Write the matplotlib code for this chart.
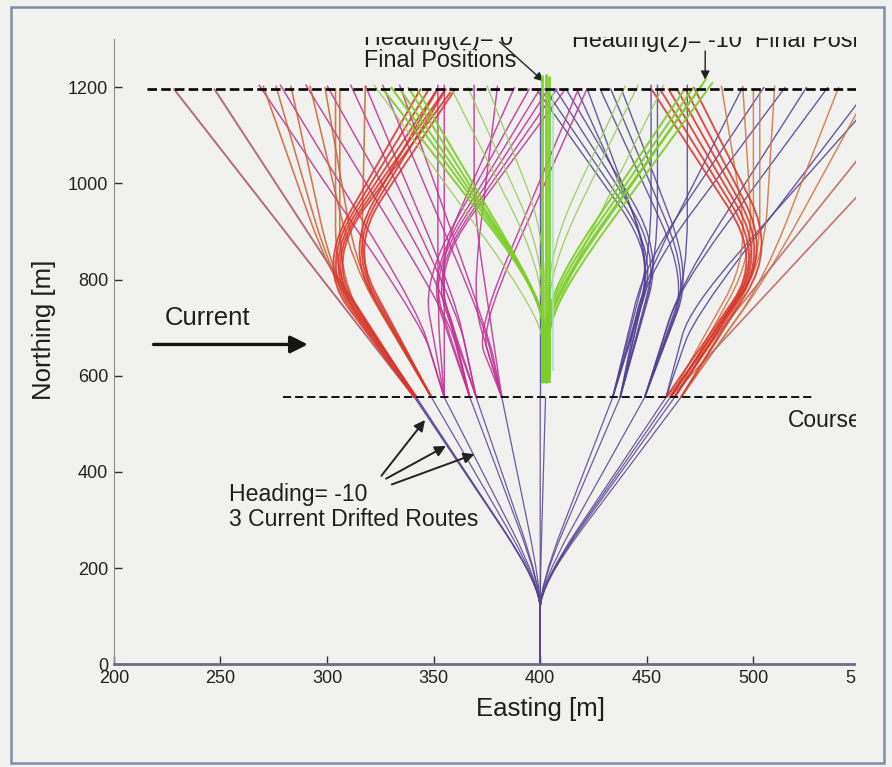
import matplotlib.pyplot as plt
from matplotlib.path import Path
from matplotlib.patches import PathPatch, Rectangle
import numpy as np

plt.rcParams['font.family'] = ['Liberation Sans', 'DejaVu Sans']

# ---- values (Easting / Northing in m) ----
x_ticks = [200, 250, 300, 350, 400, 450, 500, 550]
y_ticks = [0, 200, 400, 600, 800, 1000, 1200]

final_line_x = [215.5, 550]      # dashed "final positions" line
final_line_y = 1197
course_line_x = [279.5, 528]     # dashed "course" line
course_line_y = 555

# first leg: origin -> knee -> crossing of the course line
fan_start = (400, 0)
fan_knee = (400, 165)
fan_x = [341, 341.5, 342, 349, 355, 367, 370, 382, 400, 402.5,
         434, 437.5, 449, 459, 461, 463, 466]

# second legs, each route given by its way points
long_left = [
    [(341, 555), (228, 1197)],
    [(341.5, 555), (247, 1197)],
]
red_left = [
    [(341, 555), (296, 826), (344, 1197)],
    [(341, 555), (297, 830), (348, 1197)],
    [(342, 555), (298, 834), (352, 1197)],
    [(342, 555), (299, 838), (355, 1192)],
    [(341.5, 555), (300, 842), (358, 1190)],
    [(349, 555), (309, 862), (352, 1197)],
    [(349, 555), (310, 866), (356, 1197)],
    [(349, 555), (311, 870), (360, 1195)],
]
orange_left = [
    [(341, 555), (304, 790), (304, 1197)],
    [(342, 555), (306, 792), (306, 1197)],
    [(341, 555), (301, 812), (270, 1203)],
    [(341.5, 555), (302, 806), (276, 1203)],
    [(342, 555), (303, 800), (283, 1203)],
    [(349, 555), (312, 830), (292, 1203)],
    [(349, 555), (314, 820), (299, 1200)],
    [(349, 555), (316, 800), (318, 1203)],
]
magenta = [
    [(355, 555), (345, 700), (268, 1205)],
    [(355, 555), (343, 730), (278, 1205)],
    [(367, 555), (357, 720), (290, 1205)],
    [(367, 555), (356, 760), (300, 1203)],
    [(370, 555), (362, 720), (311, 1205)],
    [(370, 555), (360, 760), (318, 1203)],
    [(382, 555), (374, 700), (326, 1205)],
    [(382, 555), (376, 680), (334, 1205)],
    [(355, 555), (345, 800), (395, 1197)],
    [(367, 555), (347, 812), (400, 1197)],
    [(367, 555), (348, 816), (404, 1197)],
    [(370, 555), (349, 820), (408, 1197)],
    [(370, 555), (350, 826), (412, 1197)],
    [(367, 555), (351, 830), (388, 1200)],
    [(382, 555), (370, 690), (418, 1197)],
    [(382, 555), (372, 700), (422, 1197)],
    [(382, 555), (368, 760), (380, 1203)],
    [(355, 555), (352, 720), (352, 1205)],
    [(355, 555), (355, 760), (355, 1205)],
    [(382, 555), (369, 940), (369, 1205)],
]
green_trunk = [
    [(401, 585), (401, 1225)],
    [(402.5, 585), (402.5, 1228)],
    [(404, 600), (404, 1222)],
]
green_cyan = [
    [(406, 610), (406, 1197)],
]
green_v = [
    [(401, 585), (401, 770), (326, 1197)],
    [(401.5, 585), (401.5, 765), (330, 1200)],
    [(402, 585), (402, 760), (334, 1197)],
    [(402, 585), (402, 750), (338, 1200)],
    [(402.5, 585), (402.5, 745), (342, 1197)],
    [(403, 585), (403, 770), (468, 1197)],
    [(403.5, 585), (403.5, 765), (472, 1200)],
    [(404, 585), (404, 760), (476, 1205)],
    [(404, 585), (404, 752), (478, 1218)],
    [(404.5, 585), (404.5, 745), (481, 1210)],
]
green_light = [
    [(401, 585), (401, 820), (358, 1200)],
    [(401, 585), (401, 860), (366, 1200)],
    [(402, 585), (402, 900), (375, 1203)],
    [(401, 585), (401, 720), (322, 1205)],
    [(404, 585), (404, 820), (446, 1205)],
    [(404, 585), (404, 860), (440, 1203)],
    [(404, 585), (404, 720), (458, 1205)],
]
purple = [
    [(400, 555), (400, 1197)],
    [(434, 555), (454, 848), (398, 1197)],
    [(434, 555), (455, 852), (402, 1197)],
    [(437.5, 555), (456, 856), (407, 1197)],
    [(437.5, 555), (457, 860), (412, 1197)],
    [(434, 555), (453, 845), (417, 1197)],
    [(437.5, 555), (452, 835), (422, 1197)],
    [(434, 555), (452, 860), (452, 1205)],
    [(437.5, 555), (455, 850), (455, 1205)],
    [(449, 555), (469, 810), (469, 1205)],
    [(449, 555), (469, 800), (428, 1197)],
    [(449, 555), (470, 805), (433, 1197)],
    [(449, 555), (471, 810), (438, 1197)],
    [(434, 555), (449, 830), (505, 1200)],
    [(437.5, 555), (451, 820), (515, 1200)],
    [(437.5, 555), (448, 790), (495, 1200)],
    [(449, 555), (466, 790), (525, 1200)],
    [(449, 555), (465, 780), (535, 1200)],
    [(459, 555), (472, 720), (552, 1185)],
    [(459, 555), (470, 740), (552, 1150)],
]
red_right = [
    [(459, 555), (504, 842), (452, 1197)],
    [(461, 555), (505, 846), (456, 1197)],
    [(461, 555), (506, 850), (460, 1197)],
    [(463, 555), (507, 855), (464, 1197)],
    [(463, 555), (508, 860), (468, 1197)],
    [(466, 555), (510, 865), (472, 1200)],
]
orange_right = [
    [(461, 555), (500, 810), (500, 1197)],
    [(463, 555), (503, 815), (503, 1197)],
    [(461, 555), (498, 850), (485, 1203)],
    [(463, 555), (500, 850), (495, 1203)],
    [(466, 555), (505, 840), (510, 1203)],
    [(466, 555), (505, 800), (540, 1200)],
    [(466, 555), (507, 810), (552, 1175)],
]
tan_right = [
    [(459.4, 555), (555, 1083)],
    [(461, 555), (555, 1003)],
]

# annotation arrows: (tail, head)
current_arrow = [(218.6, 665), (291, 665)]
heading_arrows = [
    [(325.5, 392), (346, 508)],
    [(327.7, 386), (355.8, 454)],
    [(330.4, 374), (369.2, 437)],
]
final0_arrow = [(381, 1294), (401.5, 1212)]
final10_arrow = [(477.4, 1275), (477.4, 1215)]


def route_path(pts, f):
    pts = np.asarray(pts, float)
    verts = [pts[0]]
    codes = [Path.MOVETO]
    for i in range(1, len(pts) - 1):
        p, v, n = pts[i - 1], pts[i], pts[i + 1]
        verts += [v + f * (p - v), v, v + f * (n - v)]
        codes += [Path.LINETO, Path.CURVE3, Path.CURVE3]
    verts.append(pts[-1])
    codes.append(Path.LINETO)
    return Path(verts, codes)


def draw(ax, routes, color, lw=1.0, f=0.3, alpha=0.9, z=2, speck=True):
    # printed look of the scan: coloured line with dark specks on it
    for r in routes:
        path = route_path(r, f)
        ax.add_patch(PathPatch(path, fill=False, edgecolor=color, lw=lw,
                               alpha=alpha, zorder=z, capstyle='butt'))
        if speck:
            ax.add_patch(PathPatch(path, fill=False, edgecolor='#3a2a3a',
                                   lw=0.5, alpha=0.35, zorder=z,
                                   linestyle=(0, (1, 2.5))))


bg = '#f1f1f0'
fig = plt.figure(figsize=(8.92, 7.67), dpi=100, facecolor=bg)
ax = fig.add_axes([0.1276, 0.1338, 0.8365, 0.8154])
ax.set_facecolor('none')
ax.set_xlim(200, 550)
ax.set_ylim(0, 1300)

fan = [[fan_start, fan_knee, (x, course_line_y)] for x in fan_x]
draw(ax, fan, '#5a4898', lw=0.9, f=0.3, alpha=0.85, z=2)
draw(ax, long_left, '#b0586a', lw=1.4, alpha=0.85, z=2)
draw(ax, purple, '#54449a', lw=1.0, alpha=0.85, z=2)
draw(ax, magenta, '#c8359c', lw=1.1, alpha=0.85, z=3)
draw(ax, orange_left, '#d46a3c', lw=1.2, alpha=0.85, z=3)
draw(ax, orange_right, '#dc7a48', lw=1.1, alpha=0.85, z=3)
draw(ax, tan_right, '#c07068', lw=1.3, alpha=0.85, z=3)
draw(ax, red_left, '#e2362c', lw=1.4, alpha=0.85, z=4)
draw(ax, red_right, '#e2362c', lw=1.4, alpha=0.85, z=4)
draw(ax, green_light, '#a6d86a', lw=1.0, f=0.35, alpha=0.9, z=5)
draw(ax, green_v, '#7ccf28', lw=1.5, f=0.35, alpha=0.9, z=5, speck=False)
draw(ax, green_trunk, '#7ccf28', lw=2.0, alpha=0.95, z=5, speck=False)
draw(ax, green_cyan, '#a8dcd2', lw=1.2, alpha=0.95, z=5, speck=False)

ax.plot(final_line_x, [final_line_y] * 2, color='k', lw=1.9,
        dashes=(3.6, 1.6), zorder=6)
ax.plot(course_line_x, [course_line_y] * 2, color='k', lw=1.3,
        dashes=(4.5, 2.2), zorder=6)

ax.annotate('', xy=current_arrow[1], xytext=current_arrow[0],
            arrowprops=dict(arrowstyle='-|>', lw=2.4, color='#151515',
                            mutation_scale=26, shrinkA=0, shrinkB=0))
for tail, head in heading_arrows:
    ax.annotate('', xy=head, xytext=tail,
                arrowprops=dict(arrowstyle='-|>', lw=1.4, color='#222',
                                mutation_scale=16, shrinkA=0, shrinkB=0))
for tail, head in (final0_arrow, final10_arrow):
    ax.annotate('', xy=head, xytext=tail, annotation_clip=False,
                arrowprops=dict(arrowstyle='-|>', lw=1.0, color='#222',
                                mutation_scale=13, shrinkA=0, shrinkB=0))

txt = '#1e1e1e'
ax.text(224, 719, 'Current', fontsize=18.5, color=txt, va='center', ha='left')
ax.text(516, 506, 'Course', fontsize=16.5, color=txt, va='center', ha='left')
ax.text(254, 354, 'Heading= -10', fontsize=16.6, color=txt, va='center')
ax.text(254, 302, '3 Current Drifted Routes', fontsize=16.6, color=txt,
        va='center')
ax.text(317.4, 1300, 'Heading(2)= 0', fontsize=16.8, color=txt,
        va='center', clip_on=False)
ax.text(317.4, 1256, 'Final Positions', fontsize=16.8, color=txt,
        va='center', clip_on=False)
ax.text(415, 1296, 'Heading(2)= -10  Final Positions', fontsize=16.8,
        color=txt, va='center', clip_on=False)

ax.set_xticks(x_ticks)
ax.set_yticks(y_ticks)
ax.tick_params(direction='in', length=6, width=1, colors='#333',
               labelsize=13, pad=4)
ax.tick_params(axis='both', labelcolor='#222')
for s in ('top', 'right'):
    ax.spines[s].set_visible(False)
ax.spines['left'].set_color('#8a8a8a')
ax.spines['bottom'].set_color('#6f6a88')
ax.spines['bottom'].set_linewidth(2)
ax.set_xlabel('Easting [m]', fontsize=18.5, color=txt)
ax.set_ylabel('Northing [m]', fontsize=18.5, color=txt)
ax.xaxis.set_label_coords(0.5714, -0.052)
ax.yaxis.set_label_coords(-0.078, 0.535)

# the scan is cut off at the top and on the right
fig.add_artist(Rectangle((856 / 892, 0), 36 / 892, 1, transform=fig.transFigure,
                         facecolor=bg, edgecolor='none', zorder=10))
fig.add_artist(Rectangle((0, 1 - 37 / 767), 1, 37 / 767, transform=fig.transFigure,
                         facecolor=bg, edgecolor='none', zorder=10))
fig.add_artist(Rectangle((11 / 892, 4 / 767), 873 / 892, 756 / 767,
                         transform=fig.transFigure, facecolor='none',
                         edgecolor='#7c8fa6', lw=1.8, zorder=11))

fig.savefig('out.png', dpi=100, facecolor=bg)
